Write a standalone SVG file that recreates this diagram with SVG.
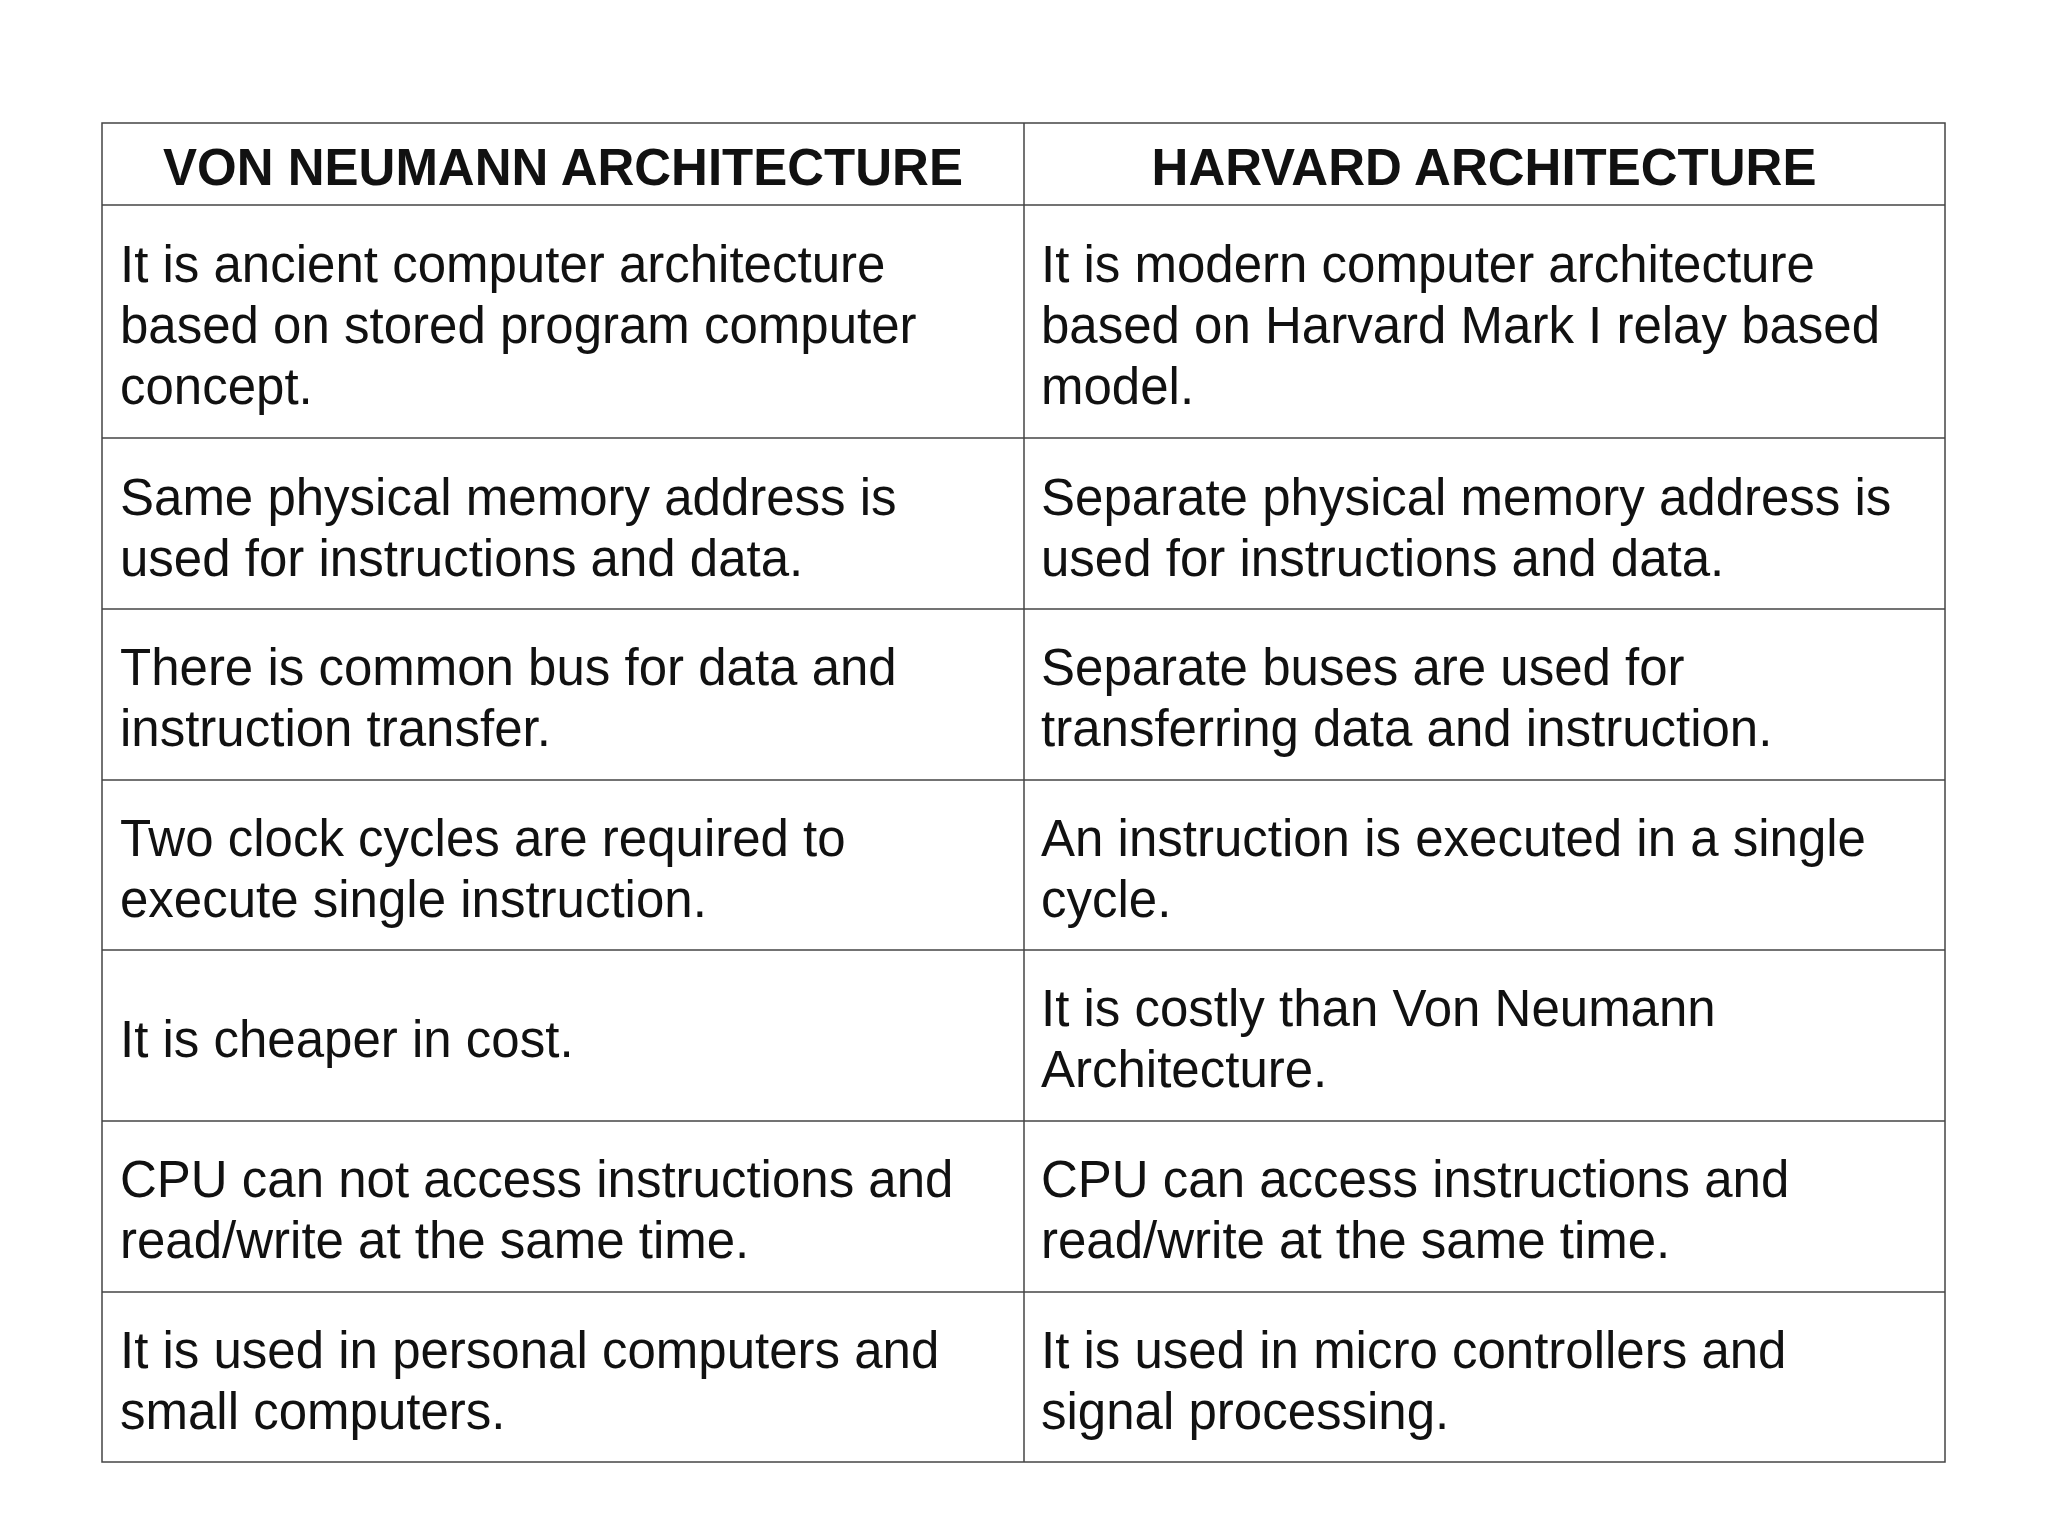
<svg xmlns="http://www.w3.org/2000/svg" width="2048" height="1536" viewBox="0 0 2048 1536">
<style>
.t{font-family:"Liberation Sans",Arial,sans-serif;font-size:51px;fill:#111}
.h{font-family:"Liberation Sans",Arial,sans-serif;font-size:51px;font-weight:bold;fill:#111;text-anchor:middle}
.l{stroke:#444;stroke-width:1.5;fill:none}
</style>
<rect width="2048" height="1536" fill="#fff"/>
<g id="grid">
<rect class="l" x="102" y="123" width="1843" height="1339"/>
<line class="l" x1="1024" y1="123" x2="1024" y2="1462"/>
<line class="l" x1="102" y1="205" x2="1945" y2="205"/>
<line class="l" x1="102" y1="438" x2="1945" y2="438"/>
<line class="l" x1="102" y1="609" x2="1945" y2="609"/>
<line class="l" x1="102" y1="780" x2="1945" y2="780"/>
<line class="l" x1="102" y1="950" x2="1945" y2="950"/>
<line class="l" x1="102" y1="1121" x2="1945" y2="1121"/>
<line class="l" x1="102" y1="1292" x2="1945" y2="1292"/>
</g>
<g id="header">
<text class="h" x="563" y="185">VON NEUMANN ARCHITECTURE</text>
<text class="h" x="1484" y="185">HARVARD ARCHITECTURE</text>
</g>
<g id="left">
<text class="t" x="120" y="282">It is ancient computer architecture</text>
<text class="t" x="120" y="343">based on stored program computer</text>
<text class="t" x="120" y="404">concept.</text>
<text class="t" x="120" y="515">Same physical memory address is</text>
<text class="t" x="120" y="576">used for instructions and data.</text>
<text class="t" x="120" y="685">There is common bus for data and</text>
<text class="t" x="120" y="746">instruction transfer.</text>
<text class="t" x="120" y="856">Two clock cycles are required to</text>
<text class="t" x="120" y="917">execute single instruction.</text>
<text class="t" x="120" y="1057">It is cheaper in cost.</text>
<text class="t" x="120" y="1197">CPU can not access instructions and</text>
<text class="t" x="120" y="1258">read/write at the same time.</text>
<text class="t" x="120" y="1368">It is used in personal computers and</text>
<text class="t" x="120" y="1429">small computers.</text>
</g>
<g id="right">
<text class="t" x="1041" y="282">It is modern computer architecture</text>
<text class="t" x="1041" y="343">based on Harvard Mark I relay based</text>
<text class="t" x="1041" y="404">model.</text>
<text class="t" x="1041" y="515">Separate physical memory address is</text>
<text class="t" x="1041" y="576">used for instructions and data.</text>
<text class="t" x="1041" y="685">Separate buses are used for</text>
<text class="t" x="1041" y="746">transferring data and instruction.</text>
<text class="t" x="1041" y="856">An instruction is executed in a single</text>
<text class="t" x="1041" y="917">cycle.</text>
<text class="t" x="1041" y="1026">It is costly than Von Neumann</text>
<text class="t" x="1041" y="1087">Architecture.</text>
<text class="t" x="1041" y="1197">CPU can access instructions and</text>
<text class="t" x="1041" y="1258">read/write at the same time.</text>
<text class="t" x="1041" y="1368">It is used in micro controllers and</text>
<text class="t" x="1041" y="1429">signal processing.</text>
</g>
</svg>
